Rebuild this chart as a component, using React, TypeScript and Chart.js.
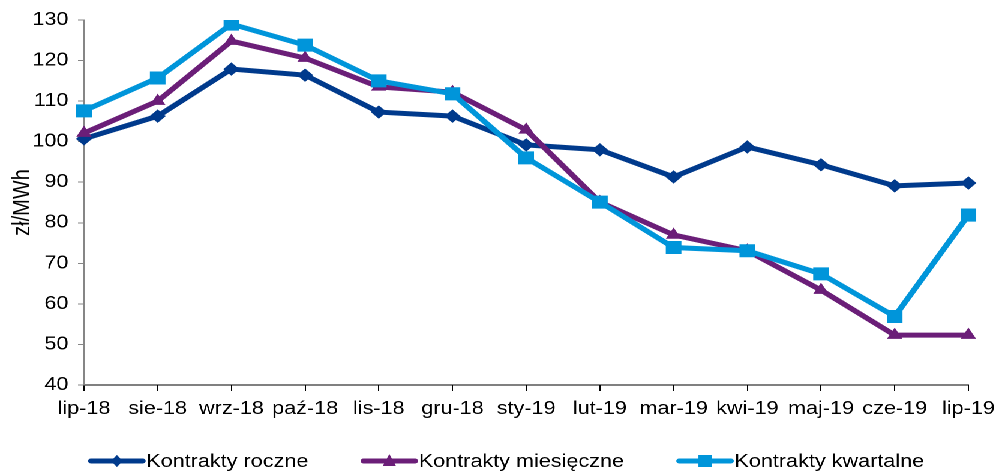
import React, { useEffect, useRef } from "react";
import { Chart, registerables } from "chart.js";

Chart.register(...registerables);

const categories = ["lip-18", "sie-18", "wrz-18", "paź-18", "lis-18", "gru-18", "sty-19", "lut-19", "mar-19", "kwi-19", "maj-19", "cze-19", "lip-19"];
const roczne = [100.7, 106.3, 117.9, 116.4, 107.3, 106.3, 99.2, 98.0, 91.3, 98.7, 94.3, 89.1, 89.8];
const miesieczne = [102.1, 110.0, 124.8, 120.6, 113.5, 112.2, 102.9, 85.1, 77.0, 73.1, 63.4, 52.3, 52.3];
const kwartalne = [107.6, 115.7, 129.0, 123.8, 115.0, 111.8, 96.0, 85.1, 73.9, 73.1, 67.4, 56.9, 81.9];
const seriesNames = ["Kontrakty roczne", "Kontrakty miesięczne", "Kontrakty kwartalne"];
const yTitle = "zł/MWh";

const COLORS = ["#003A8C", "#6B1E78", "#0095DA"];
const FONT = "'Liberation Sans', Arial, sans-serif";

const legendPlugin = {
  id: "customLegend",
  afterDraw(chart: any) {
    const ctx = chart.ctx;
    const ds = [0, 1, 2].map((i) => chart.data.datasets[i]);
    ctx.save();
    ctx.font = `18px ${FONT}`;
    const symW = 47;
    const textGap = 1;
    const itemGap = 44;
    const widths = ds.map((d: any) => symW + textGap + ctx.measureText(d.label).width);
    const total = widths.reduce((a: number, b: number) => a + b, 0) + itemGap * (ds.length - 1);
    let x = (chart.width - total) / 2 + 7;
    const y = 461;
    ds.forEach((d: any, i: number) => {
      ctx.strokeStyle = d.borderColor;
      ctx.lineWidth = 5;
      ctx.lineCap = "round";
      ctx.beginPath();
      ctx.moveTo(x + 2, y);
      ctx.lineTo(x + symW - 2, y);
      ctx.stroke();
      const cx = x + symW / 2;
      ctx.fillStyle = d.borderColor;
      ctx.beginPath();
      if (d.pointStyle === "rectRot") {
        ctx.moveTo(cx, y - 6);
        ctx.lineTo(cx + 5, y);
        ctx.lineTo(cx, y + 6);
        ctx.lineTo(cx - 5, y);
      } else if (d.pointStyle === "triangle") {
        ctx.moveTo(cx, y - 7);
        ctx.lineTo(cx + 5.5, y + 5);
        ctx.lineTo(cx - 5.5, y + 5);
      } else {
        ctx.rect(cx - 5.5, y - 6, 11, 12);
      }
      ctx.closePath();
      ctx.fill();
      ctx.fillStyle = "#000";
      ctx.textBaseline = "middle";
      ctx.textAlign = "left";
      ctx.fillText(d.label, x + symW + textGap, y + 1);
      x += widths[i] + itemGap;
    });
    ctx.restore();
  },
};

export default function App() {
  const ref = useRef<HTMLCanvasElement | null>(null);
  useEffect(() => {
    if (!ref.current) return;
    const chart = new Chart(ref.current, {
      type: "line",
      data: {
        labels: categories,
        datasets: [
          {
            label: seriesNames[0],
            data: roczne,
            borderColor: COLORS[0],
            backgroundColor: COLORS[0],
            borderWidth: 5,
            pointStyle: "rectRot",
            pointRadius: 6,
            pointBorderWidth: 1,
            order: 3,
          },
          {
            label: seriesNames[1],
            data: miesieczne,
            borderColor: COLORS[1],
            backgroundColor: COLORS[1],
            borderWidth: 5,
            pointStyle: "triangle",
            pointRadius: 6.5,
            pointBorderWidth: 1,
            order: 2,
          },
          {
            label: seriesNames[2],
            data: kwartalne,
            borderColor: COLORS[2],
            backgroundColor: COLORS[2],
            borderWidth: 5,
            pointStyle: "rect",
            pointRadius: 8.5,
            pointBorderWidth: 1,
            order: 1,
          },
        ],
      },
      options: {
        animation: false,
        responsive: true,
        maintainAspectRatio: false,
        devicePixelRatio: 2,
        layout: { padding: { left: 0, right: 23, top: 20, bottom: 0 } },
        plugins: { legend: { display: false }, tooltip: { enabled: false } },
        scales: {
          x: {
            offset: false,
            grid: { drawOnChartArea: false, drawTicks: true, tickLength: 6, color: "#000" },
            border: { color: "#000", width: 1 },
            ticks: { color: "#000", font: { family: FONT, size: 18 }, padding: 7, maxRotation: 0, autoSkip: false },
            afterFit(scale: any) {
              scale.height = 87;
              scale.paddingLeft = 0;
              scale.paddingRight = 0;
            },
          },
          y: {
            min: 40,
            max: 130,
            grid: { drawOnChartArea: false, drawTicks: true, tickLength: 5, color: "#868686" },
            border: { color: "#868686", width: 1 },
            ticks: { stepSize: 10, color: "#000", font: { family: FONT, size: 18 }, padding: 8 },
            title: { display: true, text: yTitle, color: "#000", font: { family: FONT, size: 20 }, padding: { top: 7, bottom: 0 } },
            afterFit(scale: any) {
              scale.width = 70;
            },
          },
        },
      },
      plugins: [legendPlugin],
    });
    return () => chart.destroy();
  }, []);
  return (
    <div
      style={{
        position: "absolute",
        left: 0,
        top: 0,
        width: 830,
        height: 472,
        transform: "scaleX(1.2)",
        transformOrigin: "0 0",
        background: "#fff",
      }}
    >
      <canvas ref={ref} />
    </div>
  );
}
